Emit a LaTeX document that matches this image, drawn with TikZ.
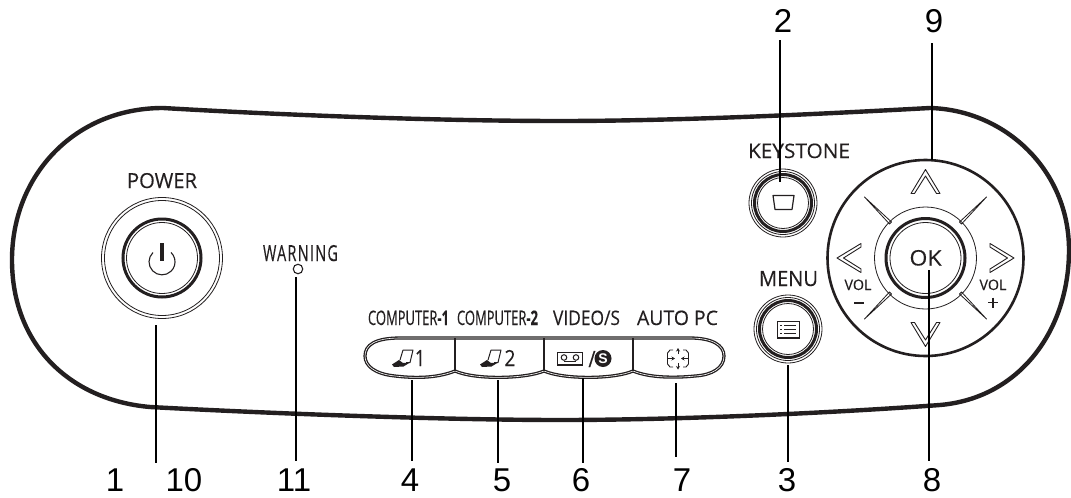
\documentclass[tikz,border=0pt]{standalone}
\usepackage{graphicx}
\usepackage{fontspec}
\usetikzlibrary{arrows.meta}
\setmainfont{Liberation Sans}
\newfontfamily\lab[FakeBold=0.25]{Open Sans}
\newcommand{\fitbox}[3]{\resizebox{#1pt}{#2pt}{\lab #3}}
\definecolor{ink}{HTML}{231F20}
\tikzset{
 numlabel/.style={font=\fontsize{33}{33}\selectfont,inner sep=0pt,anchor=base,text=black},
 caplabel/.style={inner sep=0pt,anchor=base,text=ink},
 leader/.style={line width=1.8pt,black},
 thinring/.style={line width=0.8pt,ink},
 darkring/.style={line width=3pt,ink},
 chevron/.style={line width=0.9pt,ink,line join=round},
 slit/.style={line width=0.8pt,ink,line join=round},
 iconline/.style={line width=1pt,ink},
 autoicon/.style={line width=0.9pt,ink},
}
\begin{document}
\begin{tikzpicture}[x=1pt,y=-1pt]
\useasboundingbox (0,0) rectangle (1071,498);
\fill[white] (0,0) rectangle (1071,498);
% body
\draw[line width=4.4pt,ink,line join=round] (163,108)
 .. controls (300,116) and (450,121) .. (560,121)
 .. controls (680,121) and (820,114) .. (930,108)
 .. controls (1005,110) and (1069,170) .. (1069,250)
 .. controls (1069,330) and (1020,398) .. (940,405)
 .. controls (830,413) and (680,420) .. (560,420)
 .. controls (450,420) and (280,414) .. (150,407)
 .. controls (70,400) and (12,345) .. (12,260)
 .. controls (12,175) and (75,108) .. (163,108) -- cycle;
% power
\coordinate (pw) at (162,258);
\draw[thinring] (pw) circle (60.5);
\draw[thinring] (pw) circle (57.5);
\draw[darkring] (pw) circle (39);
\draw[thinring] (pw) circle (35.5);
\draw[line width=1.1pt,ink] (153,252.5) arc[start angle=226,end angle=-46,radius=13];
\draw[line width=3.8pt,ink] (162,243) -- (162,261);
\node[caplabel] (power) at (162,188) {\fitbox{70}{15}{POWER}};
% warning
\node[caplabel] (warn) at (300.5,261) {\resizebox{75pt}{16pt}{\lab\addfontfeature{LetterSpace=9}WARNING}};
\node[draw=ink,line width=1.1pt,circle,minimum size=9.5pt,inner sep=0pt] (led) at (298,269) {};
% source button row
\draw[ink,line width=1.3pt,double=white,double distance=0.6pt,line join=round]
 (400,338) -- (690,338)
 .. controls (712,338) and (724,345) .. (724,356)
 .. controls (724,368) and (712,375) .. (695,376)
 .. controls (675,378) and (650,378) .. (633,371)
 .. controls (615,379) and (565,380) .. (544,371)
 .. controls (525,379) and (475,380) .. (455,371)
 .. controls (440,377) and (420,379) .. (395,376)
 .. controls (375,374) and (365,366) .. (365,356)
 .. controls (365,345) and (375,338) .. (400,338) -- cycle;
\foreach \dx in {455,544,633}{\draw[line width=2.4pt,ink] (\dx,338) -- (\dx,371);}
\node[caplabel] (c1) at (408.5,325) {\fitbox{81}{14.5}{COMPUTER{\bfseries -1}}};
\node[caplabel] (c2) at (497.5,325) {\fitbox{81}{14.5}{COMPUTER{\bfseries -2}}};
\node[caplabel] (c3) at (586.5,325) {\fitbox{67}{14.5}{VIDEO/S}};
\node[caplabel] (c4) at (677.5,325) {\fitbox{81}{14.5}{AUTO PC}};
% laptops
\foreach \ox/\dg in {0/1,88/2}{
 \begin{scope}[xshift=\ox pt]
 \draw[iconline,line join=round] (403,350) -- (413,350) -- (410,362.5) -- (406,362.5);
 \draw[iconline] (403,350) -- (400,360);
 \fill[ink] (392,364.5) -- (399,360) -- (403,363) -- (410,362.5) -- (403.5,366.5) -- (394,367) -- cycle;
 \end{scope}
}
\node[caplabel] (d1) at (420,366) {\resizebox{10pt}{16pt}{\lab 1}};
\node[caplabel] (d2) at (510,366) {\resizebox{11pt}{16pt}{\lab 2}};
% video icon
\draw[line width=1.2pt,ink] (557.5,352.5) rectangle (582.5,365);
\draw[line width=1pt,ink] (564,357.5) circle (2.8) (576,357.5) circle (2.8);
\draw[line width=1pt,ink] (564,361) -- (576,361);
\node[caplabel] (slash) at (592,367) {\resizebox{7pt}{16pt}{\lab /}};
\node[circle,fill=ink,minimum size=17pt,inner sep=0pt,text=white,font=\bfseries\fontsize{14}{14}\selectfont] (sdisc) at (603,358.5) {S};
% auto pc icon
\draw[autoicon,line join=round]
 (673,350) -- (670,350) -- (667.5,353) -- (667.5,364) -- (670,367) -- (673,367)
 (683,350) -- (686,350) -- (688.5,353) -- (688.5,364) -- (686,367) -- (683,367);
\draw[autoicon,-{Stealth[length=3.5pt,width=4pt]}] (678,354) -- (678,348);
\draw[autoicon,-{Stealth[length=3.5pt,width=4pt]}] (678,363) -- (678,369.5);
\draw[autoicon,-{Stealth[length=3.5pt,width=4pt]}] (668,358.5) -- (675,358.5);
\draw[autoicon,-{Stealth[length=3.5pt,width=4pt]}] (688,358.5) -- (681,358.5);
% keystone button
\coordinate (ks) at (783,203);
\draw[thinring] (ks) circle (34);
\draw[thinring] (ks) circle (31.5);
\draw[darkring] (ks) circle (28.5);
\draw[thinring] (ks) circle (25.5);
\draw[line width=1.2pt,ink,line join=round] (773,195.5) -- (794,195.5) -- (792,209.5) -- (775,209.5) -- cycle;
\node[caplabel] (keystone) at (799,158) {\fitbox{102}{14.5}{KEYSTONE}};
% menu button
\coordinate (mn) at (788,329);
\draw[thinring] (mn) circle (34);
\draw[thinring] (mn) circle (31.5);
\draw[darkring] (mn) circle (28.5);
\draw[thinring] (mn) circle (25.5);
\draw[line width=1.4pt,ink] (777.5,321.5) rectangle (799.5,338);
\foreach \yy in {325.5,329.5,333.5}{
 \fill[ink] (780,\yy-0.8) rectangle (782,\yy+0.8);
 \fill[ink] (784,\yy-0.8) rectangle (796,\yy+0.8);
}
\node[caplabel] (menu) at (788.5,286) {\fitbox{59}{15}{MENU}};
% d-pad
\coordinate (dp) at (925.5,258);
\draw[line width=2.6pt,ink] (dp) circle (98);
\draw[thinring] (dp) circle (51);
\draw[darkring] (dp) circle (39.5);
\draw[thinring] (dp) circle (35.5);
\node[caplabel] (ok) at (925.5,265.5) {\fitbox{32}{15.5}{OK}};
\begin{scope}[shift={(925.5,258)}]
 \foreach \ang in {0,90,180,270}{
  \draw[chevron,rotate=\ang] (-14.5,-64.5) -- (0,-88.5) -- (14.5,-64.5) -- (11,-64.5) -- (0,-82) -- (-11,-64.5) -- cycle;
 }
 \foreach \ang in {0,90,180,270}{
  \draw[slit,rotate=\ang] (-61,-61) -- (-34,-36) -- (-36,-34) -- cycle;
 }
\end{scope}
\node[caplabel] (vl) at (858,290) {\fitbox{27}{10.5}{VOL}};
\node[caplabel] (vr) at (993,290) {\fitbox{27}{10.5}{VOL}};
\draw[line width=1.6pt,ink] (854,302.7) -- (864,302.7);
\draw[line width=1.3pt,ink] (988,302.7) -- (998,302.7) (993,297.5) -- (993,308);
% number labels
\node[numlabel] (n1) at (115,491) {1};
\node[numlabel] (n10) at (184,491) {10};
\node[numlabel] (n11) at (294,491) {11};
\node[numlabel] (n4) at (410,491) {4};
\node[numlabel] (n5) at (502,491) {5};
\node[numlabel] (n6) at (581,491) {6};
\node[numlabel] (n7) at (682,491) {7};
\node[numlabel] (n3) at (787,491) {3};
\node[numlabel] (n8) at (932,491) {8};
\node[numlabel] (n2) at (783,32) {2};
\node[numlabel] (n9) at (934,32) {9};
% leaders
\foreach \nm/\xx/\ya/\yb in {p/156/325/463,w/296/277/461,a/412/380/461,b/498/380/463,c/583/378/463,d/676/383/457,e/788/365/462,f/929/270/461,g/780/40/182,h/932/43/160}{
 \coordinate (top\nm) at (\xx,\ya);
 \coordinate (bot\nm) at (\xx,\yb);
 \draw[leader] (top\nm) -- (bot\nm);
}
\end{tikzpicture}
\end{document}
